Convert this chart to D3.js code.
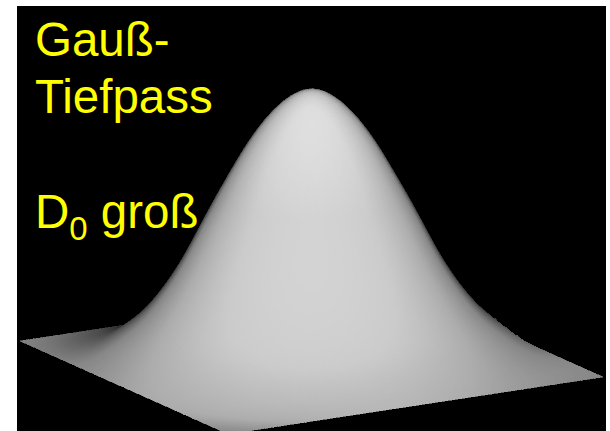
<!DOCTYPE html>
<html>
<head>
<meta charset="utf-8">
<script src="https://cdn.jsdelivr.net/npm/d3@7"></script>
<style>html,body{margin:0;padding:0;background:#fff;overflow:hidden}svg{display:block}</style>
</head>
<body>
<svg id="c" width="610" height="431"></svg>
<script>
const profileValues = [1, .97, .9, .795, .66, .52, .365, .245, .15, .085, .03, .005, .002, .001, 0, 0];
// Profile behind the shading: same hump, with the softer tail the grey levels show near the plane's edges
const shadingValues = [1, .97, .9, .795, .66, .52, .365, .25, .165, .11, .07, .04, .017, .004, 0, 0];
const profileStep = 0.1;
// Facing ratio of a surface patch -> grey level
const facing = [0, .1, .26, .5, .8, 1];
const greys = [15, 75, 135, 172, 203, 212];
const titleLines = ["Gauß-", "Tiefpass"];
const noteMain = "D", noteSub = "0", noteRest = " groß";

const N = 140;
const svg = d3.select("#c");
svg.append("rect").attr("x", 17).attr("y", 6).attr("width", 589).attr("height", 425).attr("fill", "#000");

// Orthographic projection read from the base plane's four corners
const centre = [311.5, 359], uVec = [104, 46.5], vVec = [187.5, -28.5];
const peakPx = 272, zPxPerUnit = 207, zWorld = peakPx / zPxPerUnit;
const view = (() => { const w = [187.5, -104, 56.4], l = Math.hypot(...w); return w.map(d => d / l); })();

const rMax = profileStep * (profileValues.length - 1);
const tOfR = d3.scaleLinear([-rMax, rMax], [0, 1]).clamp(true);
const smooth = vals => {
  const spline = d3.interpolateBasis([...vals.slice(1).reverse(), ...vals]);
  return r => spline(tOfR(r));
};
const profile = smooth(profileValues), shadingProfile = smooth(shadingValues);

const grid = d3.scaleLinear([0, N], [-1, 1]);
// The plane's rim stays straight in the picture, so the height is pinned to zero at the square's edge
const rim = (x, y) => 1 - Math.pow(Math.max(Math.abs(x), Math.abs(y)), 24);
const project = (x, y) => {
  const z = profile(Math.hypot(x, y)) * rim(x, y);
  return [centre[0] + x * uVec[0] + y * vVec[0], centre[1] + x * uVec[1] + y * vVec[1] - z * peakPx];
};
const shade = d3.scaleLinear().domain(facing).range(greys).clamp(true);
const heightGain = d3.scaleLinear().domain([0, .6, 1]).range([1, 1, 1.1]);
const polygon = d3.line();

const g = svg.append("g").attr("shape-rendering", "crispEdges");
const cells = [];
for (let i = 0; i < N; i++) for (let j = N - 1; j >= 0; j--) cells.push([i, j]);
g.selectAll("path").data(cells).join("path")
  .attr("d", ([i, j]) => {
    const x0 = grid(i), x1 = grid(i + 1), y0 = grid(j), y1 = grid(j + 1);
    return polygon([project(x0, y0), project(x1, y0), project(x1, y1), project(x0, y1)]) + "Z";
  })
  .each(function ([i, j]) {
    const x = grid(i + .5), y = grid(j + .5), r = Math.max(Math.hypot(x, y), 1e-6), e = 0.005;
    const dz = zWorld * (shadingProfile(r + e) - shadingProfile(r - e)) / (2 * e);
    const n = [-dz * x / r, -dz * y / r, 1], l = Math.hypot(...n);
    const nv = (n[0] * view[0] + n[1] * view[1] + n[2] * view[2]) / l;
    const v = Math.round(shade(Math.max(0, nv)) * heightGain(profile(r)));
    const c = d3.rgb(v, v, v).formatHex();
    d3.select(this).attr("fill", c).attr("stroke", c).attr("stroke-width", 0.6);
  });

const font = "'Liberation Sans', Arial, sans-serif";
const text = svg.append("g").attr("fill", "#ffff00").attr("font-family", font).attr("font-size", 47.5);
text.selectAll("text.title").data(titleLines).join("text").attr("class", "title")
  .attr("x", 35).attr("y", (d, i) => 56 + i * 57).text(d => d);
const note = text.append("text").attr("x", 35).attr("y", 228).attr("xml:space", "preserve");
note.append("tspan").text(noteMain);
note.append("tspan").attr("font-size", 33).attr("dy", 12).text(noteSub);
note.append("tspan").attr("dy", -12).text(noteRest);
</script>
</body>
</html>
